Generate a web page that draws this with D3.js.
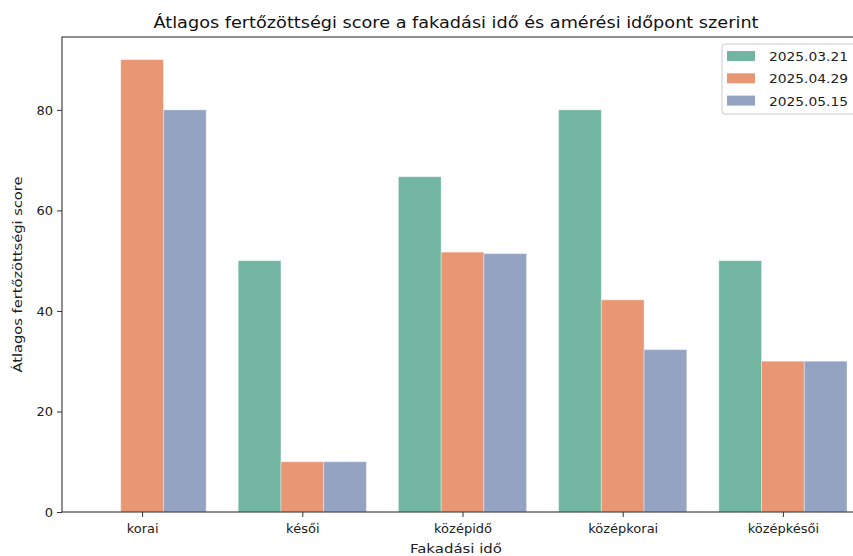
<!DOCTYPE html>
<html>
<head>
  <meta charset="UTF-8">
  <title>Átlagos fertőzöttségi score</title>
  <style>
    body { margin: 0; background: #fff; font-family: "DejaVu Sans", sans-serif; overflow: hidden; }
  </style>
</head>
<body>
  <div id="chart"></div>
  <script src="https://cdn.jsdelivr.net/npm/d3@7"></script>
  <script>
    // categories and series
    var categories = ["korai", "késői", "középidő", "középkorai", "középkésői"];
    var dates = ["2025.03.21", "2025.04.29", "2025.05.15"];
    var s0321 = [null, 50, 66.7, 80, 50];
    var s0429 = [90, 10, 51.7, 42.2, 30];
    var s0515 = [80, 10, 51.4, 32.3, 30];
    var yTicks = [0, 20, 40, 60, 80];
    var colors = ["#72b6a1", "#e99675", "#95a3c3"];

    var series = [s0321, s0429, s0515];

    var W = 853, H = 556;
    // the right part of the axes falls just outside the picture
    var m = { left: 62, right: 863, top: 37, bottom: 512 };

    var svg = d3.select('#chart').append('svg')
      .attr('width', W).attr('height', H);

    var x = d3.scaleLinear().domain([-0.5, categories.length - 0.5]).range([m.left, m.right]);
    var y = d3.scaleLinear().domain([0, 94.5]).range([m.bottom, m.top]);

    var bw = 0.8 / dates.length;

    // bars
    series.forEach(function (vals, si) {
      svg.append('g').selectAll('rect')
        .data(vals.map(function (v, i) { return { v: v, i: i }; }).filter(function (d) { return d.v != null; }))
        .enter().append('rect')
        .attr('x', function (d) { return x(d.i - 0.4 + si * bw); })
        .attr('width', function (d) { return x(bw) - x(0); })
        .attr('y', function (d) { return y(d.v); })
        .attr('height', function (d) { return y(0) - y(d.v); })
        .attr('fill', colors[si])
        .attr('stroke', '#fff')
        .attr('stroke-opacity', 0.35)
        .attr('stroke-width', 1);
    });

    // axes
    var xAxis = d3.axisBottom(x).tickValues(d3.range(categories.length))
      .tickFormat(function (d) { return categories[d]; }).tickSize(5).tickSizeOuter(0);
    var yAxis = d3.axisLeft(y).tickValues(yTicks).tickSize(5).tickSizeOuter(0);

    var gx = svg.append('g').attr('transform', 'translate(0,' + m.bottom + ')').call(xAxis);
    var gy = svg.append('g').attr('transform', 'translate(' + m.left + ',0)').call(yAxis);
    [gx, gy].forEach(function (g) {
      g.select('.domain').remove();
      g.selectAll('line').attr('stroke', '#333');
      g.selectAll('text').attr('fill', '#222').style('font-size', '13px')
        .style('font-family', '"DejaVu Sans", sans-serif');
    });
    gx.selectAll('text').attr('dy', null).attr('y', 21);
    gy.selectAll('text').attr('x', -9);

    // frame
    svg.append('rect')
      .attr('x', m.left).attr('y', m.top)
      .attr('width', m.right - m.left).attr('height', m.bottom - m.top)
      .attr('fill', 'none').attr('stroke', '#333').attr('stroke-width', 1.1);

    function fit(sel, len) {
      sel.attr('textLength', len).attr('lengthAdjust', 'spacingAndGlyphs');
    }

    // title
    svg.append('text')
      .attr('x', 456).attr('y', 28)
      .attr('text-anchor', 'middle')
      .style('font-size', '16px').attr('fill', '#111')
      .text('Átlagos fertőzöttségi score a fakadási idő és amérési időpont szerint')
      .call(fit, 605);

    // axis labels
    svg.append('text')
      .attr('x', 456).attr('y', 553)
      .attr('text-anchor', 'middle')
      .style('font-size', '13px').attr('fill', '#222')
      .text('Fakadási idő')
      .call(fit, 92);

    svg.append('text')
      .attr('transform', 'translate(22,' + ((m.top + m.bottom) / 2) + ') rotate(-90)')
      .attr('text-anchor', 'middle')
      .style('font-size', '13px').attr('fill', '#222')
      .text('Átlagos fertőzöttségi score')
      .call(fit, 196);

    // legend
    var lg = svg.append('g').attr('transform', 'translate(722,44)');
    lg.append('rect').attr('width', 134).attr('height', 70).attr('rx', 3)
      .attr('fill', '#fff').attr('fill-opacity', 0.8).attr('stroke', '#ccc');
    dates.forEach(function (d, i) {
      var row = lg.append('g').attr('transform', 'translate(0,' + (12 + i * 22.3) + ')');
      row.append('rect').attr('x', 5).attr('y', -5).attr('width', 28).attr('height', 10)
        .attr('fill', colors[i]);
      row.append('text').attr('x', 47).attr('y', 5)
        .style('font-size', '13px').attr('fill', '#222')
        .text(d).call(fit, 79);
    });
  </script>
</body>
</html>
